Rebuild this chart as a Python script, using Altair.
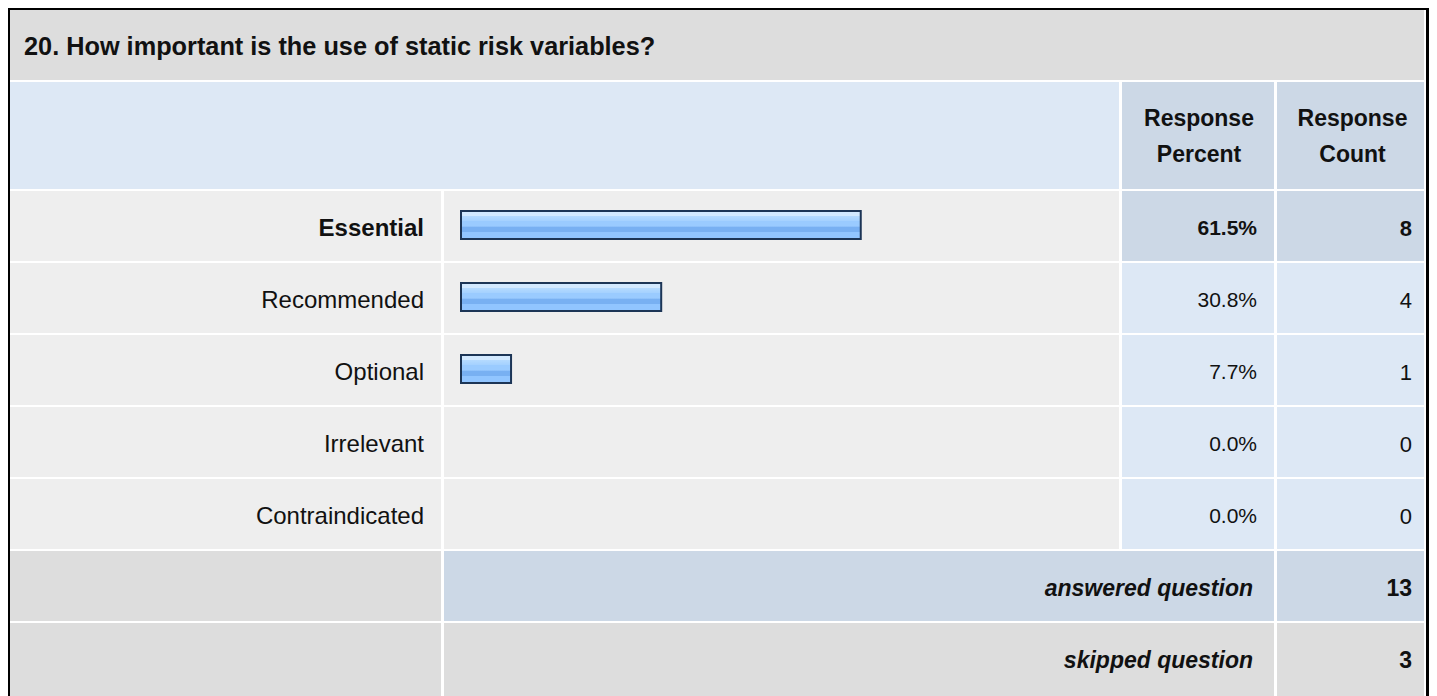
import altair as alt
import pandas as pd

# ---------------- data ----------------
title_text = "20. How important is the use of static risk variables?"
categories = ["Essential", "Recommended", "Optional", "Irrelevant", "Contraindicated"]
percents = [61.5, 30.8, 7.7, 0.0, 0.0]
counts = [8, 4, 1, 0, 0]
header_percent = ["Response", "Percent"]
header_count = ["Response", "Count"]
footer_labels = ["answered question", "skipped question"]
footer_values = [13, 3]

# ---------------- layout (page pixels) ----------------
W, H = 1421, 680
OX, OY = 8, 8
FONT = "Liberation Sans, Arial, Helvetica, sans-serif"

C0 = (10, 441)
C1 = (444, 1119)
C2 = (1122, 1274)
C3 = (1277, 1424)
ROW0 = 191
STEP = 72
ROWH = 70

GREY = "#dddddd"
LIGHT = "#eeeeee"
BLUE = "#dde8f5"
BLUE2 = "#ccd8e6"


def xs():
    return alt.Scale(domain=[OX, OX + W], range=[0, W], zero=False, nice=False)


def ys():
    return alt.Scale(domain=[OY, OY + H], range=[0, H], zero=False, nice=False)


cells = []


def cell(x0, x1, y0, y1, fill):
    cells.append({"x": x0, "x2": x1, "y": y0, "y2": y1, "fill": fill, "order": len(cells)})


cell(8, 1429, 8, 720, "#000000")
cell(10, 1426, 10, 720, "#ffffff")
cell(C0[0], C3[1], 10, 80, GREY)
cell(C0[0], C1[1], 82, 189, BLUE)
cell(C2[0], C2[1], 82, 189, BLUE2)
cell(C3[0], C3[1], 82, 189, BLUE2)
for i in range(len(categories)):
    t = ROW0 + STEP * i
    b = t + ROWH
    cell(C0[0], C0[1], t, b, LIGHT)
    cell(C1[0], C1[1], t, b, LIGHT)
    hl = BLUE2 if i == 0 else BLUE
    cell(C2[0], C2[1], t, b, hl)
    cell(C3[0], C3[1], t, b, hl)
for j, fill in enumerate([BLUE2, GREY]):
    t = ROW0 + STEP * (len(categories) + j)
    b = t + ROWH if j == 0 else 720
    cell(C0[0], C0[1], t, b, GREY)
    cell(C1[0], C2[1], t, b, fill)
    cell(C3[0], C3[1], t, b, fill)

cells_df = pd.DataFrame(cells)

bg = alt.Chart(cells_df).mark_rect().encode(
    x=alt.X("x:Q", scale=xs(), axis=None),
    x2="x2:Q",
    y=alt.Y("y:Q", scale=ys(), axis=None),
    y2="y2:Q",
    color=alt.Color("fill:N", scale=None),
)

# ---------------- bars ----------------
bar_df = pd.DataFrame({"category": categories, "percent": percents})
gradient = alt.LinearGradient(
    gradient="linear",
    x1=0, y1=0, x2=0, y2=1,
    stops=[
        alt.GradientStop(color="#d2e9ff", offset=0.0),
        alt.GradientStop(color="#d2e9ff", offset=0.18),
        alt.GradientStop(color="#b4daff", offset=0.19),
        alt.GradientStop(color="#a6d2ff", offset=0.34),
        alt.GradientStop(color="#9acbff", offset=0.35),
        alt.GradientStop(color="#9acbff", offset=0.55),
        alt.GradientStop(color="#78b0f2", offset=0.56),
        alt.GradientStop(color="#78b0f2", offset=0.74),
        alt.GradientStop(color="#91c5ff", offset=0.75),
        alt.GradientStop(color="#91c5ff", offset=1.0),
    ],
)
bars = alt.Chart(bar_df).transform_filter(alt.datum.percent > 0).mark_bar(
    color=gradient, stroke="#1c3556", strokeWidth=2
).encode(
    x=alt.X("percent:Q", axis=None,
            scale=alt.Scale(domain=[0, 100], range=[461 - OX, 461 - OX + 650], nice=False)),
    y=alt.Y("category:N", axis=None, sort=categories,
            scale=alt.Scale(domain=categories,
                            range=[ROW0 - 10, ROW0 - 10 + STEP * len(categories)],
                            paddingInner=0.61, paddingOuter=0.305)),
)


# ---------------- texts ----------------
def text_layer(rows, align="left", bold=False, italic=False, size=24):
    df = pd.DataFrame(rows)
    kw = dict(align=align, baseline="middle", font=FONT, fontSize=size, color="#111111")
    if bold:
        kw["fontWeight"] = "bold"
    if italic:
        kw["fontStyle"] = "italic"
    return alt.Chart(df).mark_text(**kw).encode(
        x=alt.X("x:Q", scale=xs(), axis=None),
        y=alt.Y("y:Q", scale=ys(), axis=None),
        text="t:N",
    )


def row_y(i):
    return ROW0 + STEP * i + 38


title = text_layer([{"x": 24, "y": 47, "t": title_text}], bold=True, size=25.3)

hdr = text_layer(
    [{"x": (C2[0] + C2[1]) / 2 + 1, "y": 119, "t": header_percent[0]},
     {"x": (C2[0] + C2[1]) / 2 + 1, "y": 155, "t": header_percent[1]},
     {"x": (C3[0] + C3[1]) / 2 + 2, "y": 119, "t": header_count[0]},
     {"x": (C3[0] + C3[1]) / 2 + 2, "y": 155, "t": header_count[1]}],
    align="center", bold=True, size=23)

lab_bold = text_layer([{"x": 424, "y": row_y(0), "t": categories[0]}],
                      align="right", bold=True)
lab_reg = text_layer([{"x": 424, "y": row_y(i), "t": categories[i]}
                      for i in range(1, len(categories))], align="right")

pct_bold = text_layer([{"x": 1257, "y": row_y(0), "t": f"{percents[0]:.1f}%"}],
                      align="right", bold=True, size=21)
pct_reg = text_layer([{"x": 1257, "y": row_y(i), "t": f"{percents[i]:.1f}%"}
                      for i in range(1, len(categories))], align="right", size=21)
cnt_bold = text_layer([{"x": 1412, "y": row_y(0), "t": str(counts[0])}],
                      align="right", bold=True, size=22)
cnt_reg = text_layer([{"x": 1412, "y": row_y(i), "t": str(counts[i])}
                      for i in range(1, len(categories))], align="right", size=22)

foot_lab = text_layer(
    [{"x": 1253, "y": row_y(len(categories) + j), "t": footer_labels[j]} for j in range(2)],
    align="right", bold=True, italic=True, size=23)
foot_val = text_layer(
    [{"x": 1412, "y": row_y(len(categories) + j), "t": str(footer_values[j])} for j in range(2)],
    align="right", bold=True, size=23)

chart = alt.layer(
    bg, bars, title, hdr, lab_bold, lab_reg, pct_bold, pct_reg, cnt_bold, cnt_reg,
    foot_lab, foot_val
).resolve_scale(x="independent", y="independent").properties(
    width=W, height=H, padding=0, background="#ffffff"
).configure_view(stroke=None)

chart.save("out.html", embed_options={"renderer": "svg", "actions": False})
